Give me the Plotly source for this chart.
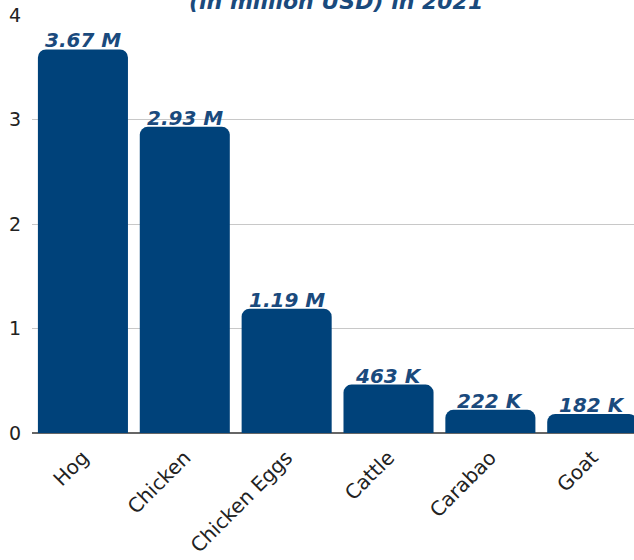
import plotly.graph_objects as go

categories = ["Hog", "Chicken", "Chicken Eggs", "Cattle", "Carabao", "Goat"]
values_musd = [3.67, 2.93, 1.19, 0.463, 0.222, 0.182]
value_labels = ["3.67 M", "2.93 M", "1.19 M", "463 K", "222 K", "182 K"]
y_ticks = [0, 1, 2, 3, 4]

BAR = "#00427a"
LABEL = "#1a4a7d"
LABEL_FONT = dict(family="DejaVu Sans", size=20, color=LABEL, style="italic", weight="bold")

fig = go.Figure(
    go.Bar(
        x=categories,
        y=values_musd,
        marker=dict(color=BAR, line=dict(width=0)),
        width=0.884,
        hoverinfo="skip",
    )
)

# value labels sitting right on top of each bar
for cat, val, lab in zip(categories, values_musd, value_labels):
    fig.add_annotation(
        x=cat, y=val, text=lab, showarrow=False,
        yanchor="bottom", yshift=-5, font=LABEL_FONT,
    )

fig.add_annotation(
    text="(in million USD) in 2021",
    xref="paper", yref="paper",
    x=0.505, y=1.0, yshift=28,
    yanchor="top", showarrow=False,
    font=dict(family="DejaVu Sans", size=22, color=LABEL, style="italic", weight="bold"),
)

fig.update_layout(
    width=634, height=560,
    margin=dict(l=32, r=0, t=15, b=127),
    paper_bgcolor="white", plot_bgcolor="white",
    barcornerradius=8,
    showlegend=False,
    xaxis=dict(
        range=[-0.5, 5.41],
        tickangle=-45,
        tickfont=dict(family="DejaVu Sans", size=20, color="#222222"),
        showgrid=False, ticks="", showline=False,
        ticklabelstandoff=8,
    ),
    yaxis=dict(
        range=[0, 4],
        tickvals=y_ticks,
        tickfont=dict(family="DejaVu Sans", size=19, color="#222222"),
        showgrid=True, gridcolor="#c8c8c8", gridwidth=1,
        zeroline=True, zerolinecolor="#666666", zerolinewidth=1.5,
        ticks="", ticklabelstandoff=10,
    ),
)

fig.write_html("out.html")
